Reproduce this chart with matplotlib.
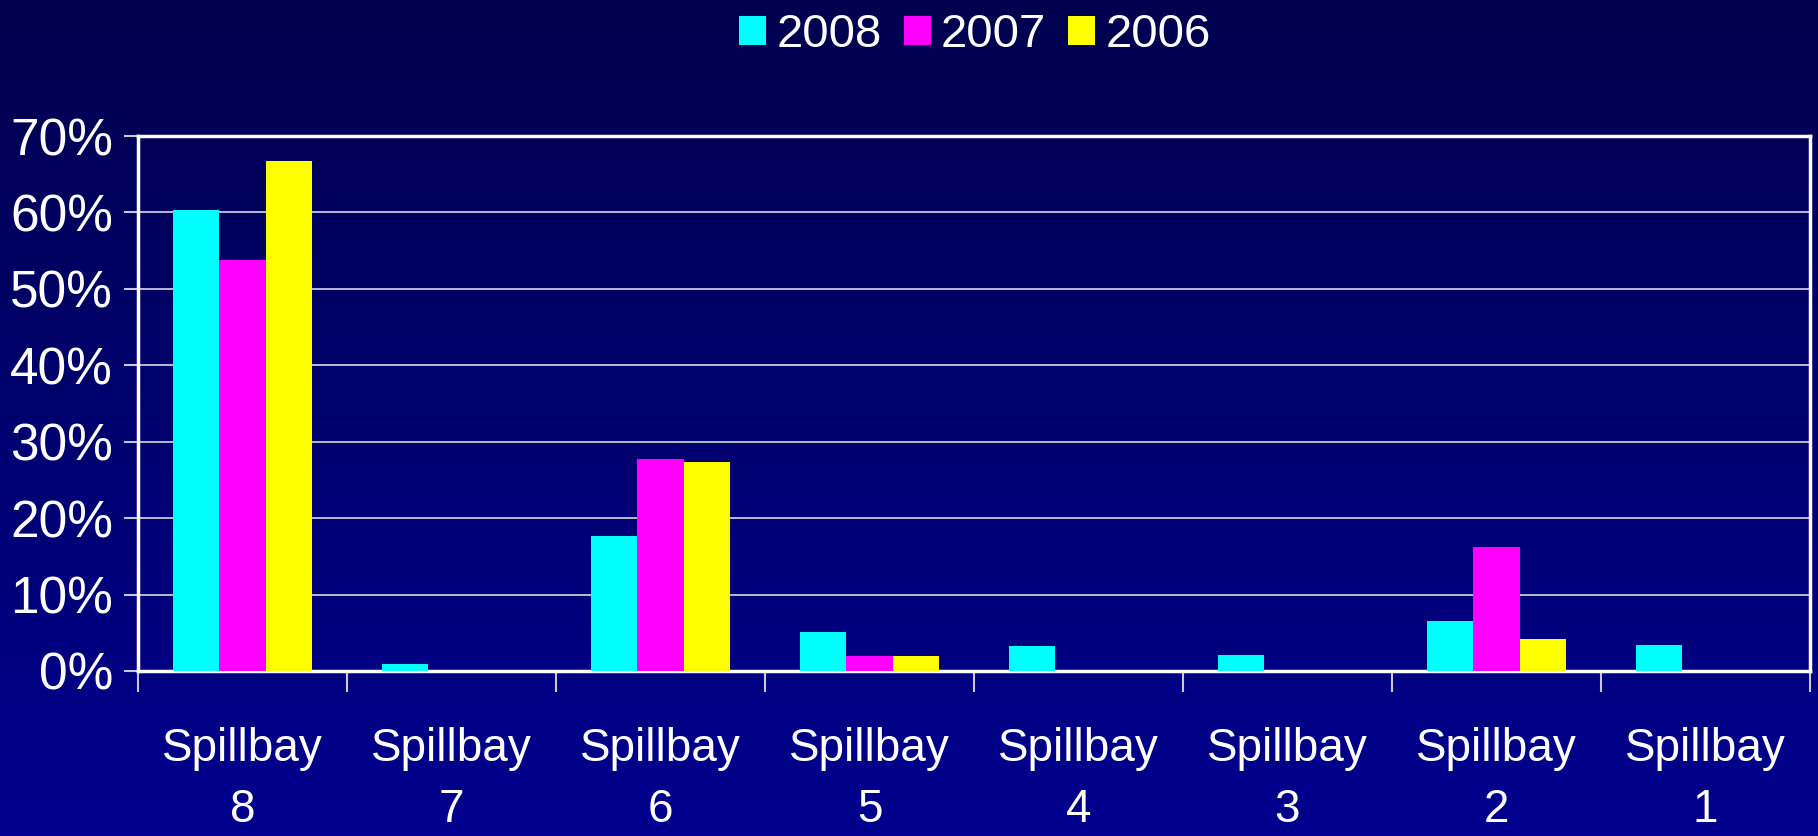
"""
Spillbay passage shares for 2008, 2007 and 2006, drawn as grouped bars
on a dark blue gradient background.
"""

import numpy as np
import matplotlib.pyplot as plt
from matplotlib.ticker import FuncFormatter, FixedLocator

plt.rcParams['font.family'] = ['Liberation Sans', 'DejaVu Sans']

categories = ['Spillbay\n8', 'Spillbay\n7', 'Spillbay\n6', 'Spillbay\n5',
              'Spillbay\n4', 'Spillbay\n3', 'Spillbay\n2', 'Spillbay\n1']
years = ['2008', '2007', '2006']
share_2008 = [0.603, 0.009, 0.177, 0.051, 0.033, 0.021, 0.065, 0.034]
share_2007 = [0.538, 0.0, 0.277, 0.019, 0.0, 0.0, 0.162, 0.0]
share_2006 = [0.667, 0.0, 0.274, 0.019, 0.0, 0.0, 0.042, 0.0]
y_ticks = [0.0, 0.1, 0.2, 0.3, 0.4, 0.5, 0.6, 0.7]

COLORS = ['#00FFFF', '#FF00FF', '#FFFF00']
TEXT_COLOR = 'white'
GRID_COLOR = '#c8c8d8'

W, H = 1818, 836
fig = plt.figure(figsize=(W / 100, H / 100), dpi=100)

# vertical gradient background
bg = fig.add_axes([0, 0, 1, 1], zorder=-10)
top = np.array([0, 0, 78]) / 255
bottom = np.array([0, 0, 142]) / 255
t = np.linspace(0, 1, 256)[:, None, None]
grad = top + (bottom - top) * t
bg.imshow(np.repeat(grad, 2, axis=1), aspect='auto', extent=[0, 1, 0, 1])
bg.axis('off')

left, right, ax_top, ax_bottom = 138, 1810, 136, 671
ax = fig.add_axes([left / W, (H - ax_bottom) / H, (right - left) / W, (ax_bottom - ax_top) / H])
ax.set_facecolor('none')

x = np.arange(len(categories))
bar_w = 1 / 4.5
series = [share_2008, share_2007, share_2006]
for i, (vals, label, color) in enumerate(zip(series, years, COLORS)):
    ax.bar(x + (i - 1) * bar_w, vals, width=bar_w, color=color, label=label,
           linewidth=0, zorder=3)

ax.set_xlim(-0.5, len(categories) - 0.5)
ax.set_ylim(0, 0.7)
ax.yaxis.set_major_locator(FixedLocator(y_ticks))
ax.yaxis.set_major_formatter(FuncFormatter(lambda v, _: f'{v * 100:.0f}%'))
ax.grid(axis='y', color=GRID_COLOR, linewidth=1.3, zorder=1)
ax.set_axisbelow(True)

ax.set_xticks(x)
ax.set_xticklabels(categories, linespacing=1.52)
ax.set_xticks(np.arange(-0.5, len(categories)), minor=True)
ax.tick_params(axis='x', which='major', length=0, pad=40, labelsize=33, labelcolor=TEXT_COLOR)
ax.tick_params(axis='x', which='minor', length=15, width=1.5, color=GRID_COLOR, direction='out')
ax.tick_params(axis='y', length=10, width=1.5, color=GRID_COLOR, pad=8,
               labelsize=37, labelcolor=TEXT_COLOR)

for side in ['left', 'right', 'top', 'bottom']:
    ax.spines[side].set_color('white')
    ax.spines[side].set_linewidth(2.5)

fig.legend(loc='upper center', bbox_to_anchor=(975 / W, 1.035), ncol=3, frameon=False,
           fontsize=34, labelcolor=TEXT_COLOR, handlelength=0.57, handleheight=0.57,
           handletextpad=0.22, columnspacing=0.47)

fig.savefig('out.png', dpi=100)
